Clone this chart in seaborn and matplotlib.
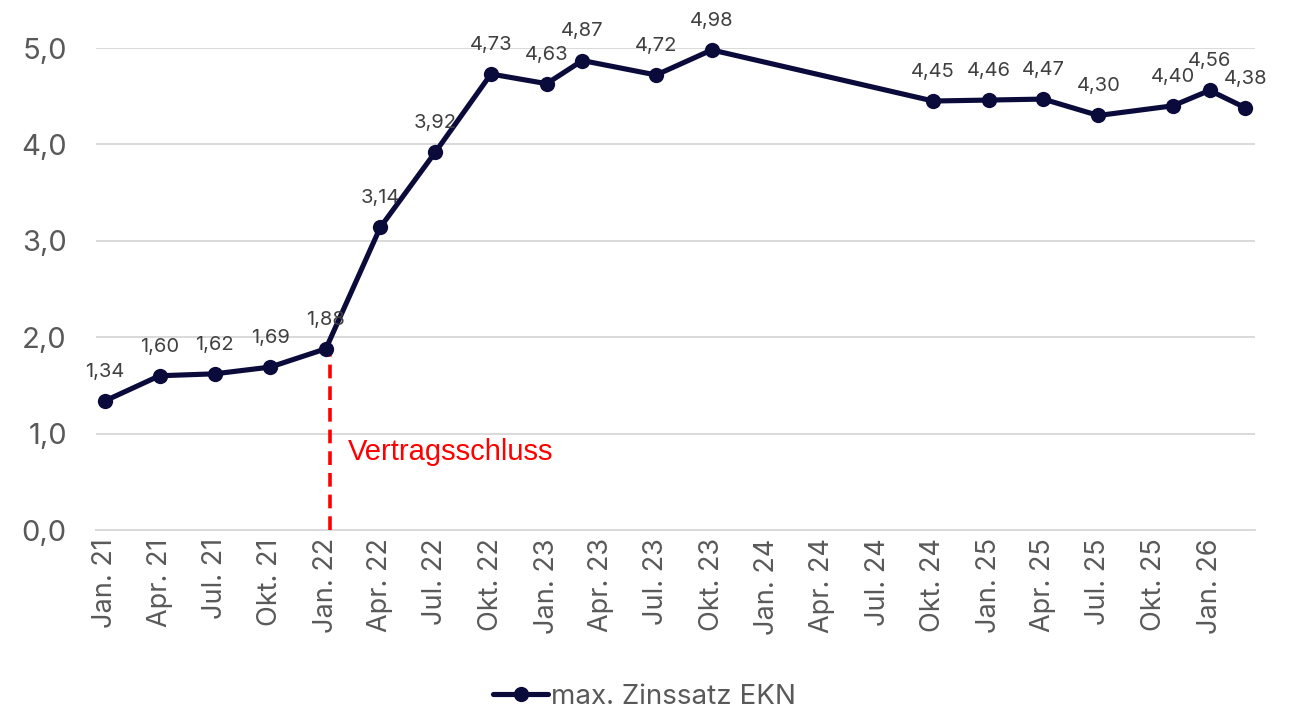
import matplotlib
matplotlib.use("Agg")
import matplotlib.pyplot as plt
import matplotlib.dates as mdates
from matplotlib.ticker import FixedLocator, FuncFormatter
import seaborn as sns
import pandas as pd

# ---- data ----
months = ["2021-01", "2021-04", "2021-07", "2021-10", "2022-01", "2022-04", "2022-07",
          "2022-10", "2023-01", "2023-03", "2023-07", "2023-10", "2024-10", "2025-01",
          "2025-04", "2025-07", "2025-11", "2026-01", "2026-03"]
values = [1.34, 1.60, 1.62, 1.69, 1.88, 3.14, 3.92, 4.73, 4.63, 4.87, 4.72, 4.98,
          4.45, 4.46, 4.47, 4.30, 4.40, 4.56, 4.38]
series_name = "max. Zinssatz EKN"
tick_months = ["2021-01", "2021-04", "2021-07", "2021-10", "2022-01", "2022-04", "2022-07",
               "2022-10", "2023-01", "2023-04", "2023-07", "2023-10", "2024-01", "2024-04",
               "2024-07", "2024-10", "2025-01", "2025-04", "2025-07", "2025-10", "2026-01"]
month_names = {1: "Jan.", 4: "Apr.", 7: "Jul.", 10: "Okt."}
event_date = "2022-01-23"
event_label = "Vertragsschluss"
x_start, x_end = "2021-01-01", "2026-04-01"
y_ticks = [0, 1, 2, 3, 4, 5]

# ---- styling ----
navy = "#0b0b3b"
grey_text = "#595959"
label_text = "#404040"
grid_col = "#d9d9d9"

sns.set_theme(style="white")
plt.rcParams["font.family"] = ["Inter", "DejaVu Sans"]

fig = plt.figure(figsize=(12.89, 7.10), dpi=100)
ax = fig.add_axes([96 / 1289, 1 - 530 / 710, (1255 - 96) / 1289, (530 - 48) / 710])

# plot points in the middle of each month slot (Excel date-axis style)
dates = pd.to_datetime(months) + pd.Timedelta(days=15)
df = pd.DataFrame({"date": dates, "value": values})
sns.lineplot(data=df, x="date", y="value", ax=ax, color=navy, linewidth=3.7,
             marker="o", markersize=11, markeredgewidth=0, label=series_name,
             clip_on=False, zorder=5)

for d, v in zip(df["date"], df["value"]):
    ax.annotate(f"{v:.2f}".replace(".", ","), (d, v), xytext=(0, 21),
                textcoords="offset points", ha="center", va="center",
                fontsize=14.5, color=label_text, zorder=6)

# event marker
ev = pd.to_datetime(event_date)
top_val = values[months.index("2022-01")] - 0.03
ax.plot([ev, ev], [0, top_val], color="#ff0000", linewidth=2.6, linestyle=(0, (3.8, 2.2)),
        zorder=4)
ax.annotate(event_label, (ev, 0.81), xytext=(13, 0), textcoords="offset points",
            ha="left", va="center", fontsize=21, color="#ff0000",
            family=["Liberation Sans", "DejaVu Sans"])

# axes
ax.set_xlim(pd.to_datetime(x_start), pd.to_datetime(x_end))
ax.set_ylim(0, 5)
ax.set_yticks(y_ticks)
ax.yaxis.set_major_formatter(FuncFormatter(lambda v, p: f"{v:.1f}".replace(".", ",")))
ax.tick_params(axis="y", length=0, pad=21, labelsize=21, labelcolor=grey_text)
ax.yaxis.grid(True, color=grid_col, linewidth=1.4)
ax.xaxis.grid(False)

tick_dates = pd.to_datetime(tick_months)
ax.xaxis.set_major_locator(FixedLocator(mdates.date2num(tick_dates)))
ax.xaxis.set_major_formatter(FuncFormatter(lambda v, p: ""))
ax.xaxis.set_minor_locator(FixedLocator(mdates.date2num(tick_dates + pd.Timedelta(days=15))))
minor_labels = [f"{month_names[t.month]} {t.year % 100:02d}" for t in tick_dates]
ax.set_xticklabels(minor_labels, minor=True, rotation=90)
ax.tick_params(axis="x", which="major", direction="out", length=8, width=1.4,
               color=grid_col)
ax.tick_params(axis="x", which="minor", length=0, pad=6, labelsize=19.5,
               labelcolor=grey_text)
for lbl in ax.get_xticklabels(minor=True):
    lbl.set_verticalalignment("top")
ax.set_xlabel("")
ax.set_ylabel("")

for s in ["top", "right", "left"]:
    ax.spines[s].set_visible(False)
ax.spines["bottom"].set_color(grid_col)
ax.spines["bottom"].set_linewidth(1.4)

ax.get_legend().remove()
handles, labels = ax.get_legend_handles_labels()
fig.legend(handles, labels, loc="center", bbox_to_anchor=(0.5, 1 - 697 / 710),
           frameon=False, fontsize=20, labelcolor=grey_text, handlelength=2.0,
           handletextpad=0.1, borderaxespad=0)

fig.savefig("out.png", dpi=100, facecolor="white")
